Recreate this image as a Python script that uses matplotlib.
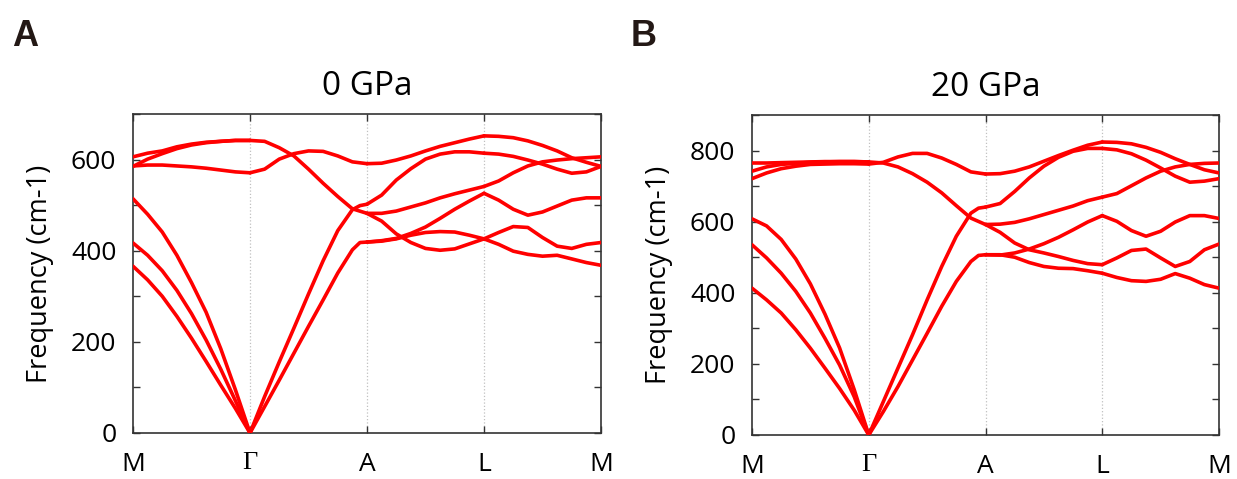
import numpy as np
import matplotlib
matplotlib.use("Agg")
import matplotlib.pyplot as plt
from matplotlib.ticker import MultipleLocator

plt.rcParams['font.family'] = ['Open Sans', 'DejaVu Sans']

# high-symmetry path labels, fractional positions inside one segment
path_labels = ['M', 'Γ', 'A', 'L', 'M']
K8 = [0, 0.125, 0.25, 0.375, 0.5, 0.625, 0.75, 0.875, 1.0]
K_AC = [0, 0.125, 0.25, 0.375, 0.5, 0.625, 0.75, 0.875, 0.94, 1.0]   # acoustic on Γ-A

####################################################################################################
# 0 GPa bands (cm-1), one list per visible curve on each segment
MG_0 = [[606, 614, 619, 628, 634, 638, 640, 642, 642],
        [585, 601, 613, 624, 632, 637, 640, 642, 642],
        [586, 588, 588, 586, 584, 581, 577, 573, 571],
        [514, 480, 441, 390, 330, 265, 185, 95, 0],
        [417, 390, 356, 313, 262, 204, 140, 71, 0],
        [366, 336, 300, 256, 208, 157, 105, 54, 0]]
GA_0 = [[642, 640, 626, 608, 579, 548, 519, 492, 482],
        [571, 579, 601, 613, 619, 618, 608, 595, 591]]
GA_AC_0 = [[0, 80, 156, 230, 305, 378, 444, 490, 499, 502],
           [0, 58, 116, 175, 234, 292, 351, 402, 418, 419]]
AL_0 = [[591, 592, 599, 608, 619, 629, 637, 645, 652],
        [502, 522, 555, 580, 601, 612, 617, 617, 614],
        [482, 482, 487, 496, 505, 516, 525, 533, 541],
        [482, 465, 437, 418, 405, 401, 404, 415, 426],
        [419, 422, 427, 438, 452, 471, 491, 509, 526],
        [419, 421, 426, 434, 440, 442, 441, 434, 426]]
LM_0 = [[652, 651, 648, 641, 631, 619, 604, 594, 585],
        [614, 612, 607, 599, 590, 579, 570, 573, 585],
        [541, 553, 571, 586, 595, 599, 602, 604, 606],
        [526, 511, 491, 478, 485, 498, 511, 516, 516],
        [426, 440, 453, 451, 429, 410, 405, 414, 418],
        [426, 414, 399, 392, 388, 390, 382, 374, 368]]

####################################################################################################
# 20 GPa bands (cm-1)
MG_20 = [[765, 765, 766, 767, 768, 769, 769, 769, 768],
         [742, 754, 761, 764, 767, 768, 769, 769, 768],
         [721, 737, 749, 756, 761, 762, 763, 763, 762],
         [608, 588, 550, 495, 425, 340, 245, 128, 0],
         [535, 498, 455, 404, 343, 272, 197, 108, 0],
         [413, 380, 343, 296, 244, 188, 131, 70, 0]]
GA_20 = [[768, 765, 754, 735, 711, 681, 645, 610, 592],
         [762, 767, 782, 792, 792, 779, 761, 740, 734]]
GA_AC_20 = [[0, 94, 188, 282, 380, 474, 559, 624, 638, 641],
            [0, 66, 136, 211, 286, 362, 432, 488, 505, 507]]
AL_20 = [[734, 735, 742, 754, 770, 786, 801, 815, 824],
         [641, 651, 685, 723, 756, 781, 798, 806, 806],
         [592, 593, 598, 608, 620, 632, 644, 659, 669],
         [592, 570, 540, 521, 512, 502, 491, 482, 479],
         [507, 506, 512, 523, 538, 556, 577, 599, 617],
         [507, 507, 500, 485, 474, 469, 468, 462, 455]]
LM_20 = [[824, 823, 819, 809, 795, 777, 761, 746, 737],
         [806, 802, 791, 773, 751, 728, 711, 714, 721],
         [669, 679, 701, 723, 742, 754, 761, 764, 765],
         [617, 601, 575, 559, 573, 599, 617, 617, 609],
         [479, 498, 519, 523, 498, 474, 488, 521, 537],
         [455, 443, 434, 432, 438, 454, 441, 423, 413]]


####################################################################################################
# draw one band-structure panel
def PlotBands(ax, segments, acoustic_GA, y_max, title, letter, letter_x):

    for s, curves in enumerate(segments):
        for v in curves:
            ax.plot(s + np.array(K8), v, color='#ff0000', lw=2.6, solid_capstyle='round',
                    solid_joinstyle='round', zorder=3)
    for v in acoustic_GA:
        ax.plot(1 + np.array(K_AC), v, color='#ff0000', lw=2.6, solid_capstyle='round',
                solid_joinstyle='round', zorder=3)

    for xv in [1, 2, 3]:
        ax.axvline(xv, color='#c0c0c0', ls=':', lw=0.9, zorder=1)

    ax.set_xlim(0, 4)
    ax.set_ylim(0, y_max)
    ax.set_xticks(range(5))
    ax.set_xticklabels(path_labels)
    ax.get_xticklabels()[1].set_fontfamily(['Liberation Serif', 'DejaVu Serif'])
    ax.yaxis.set_major_locator(MultipleLocator(200))
    ax.yaxis.set_minor_locator(MultipleLocator(100))
    ax.tick_params(which='both', direction='in', top=True, right=True, length=5, width=1,
                   color='#333333', labelsize=19)
    ax.tick_params(axis='y', pad=12)
    ax.tick_params(axis='x', pad=14)
    for sp in ax.spines.values():
        sp.set_color('#333333')
        sp.set_linewidth(1.2)

    ax.set_ylabel('Frequency (cm-1)', fontsize=19.5, labelpad=12)
    ax.set_title(title, fontsize=24, pad=14)
    ax.figure.text(letter_x, 1 - 46 / 479, letter, fontsize=26, fontweight='bold',
                   family=['Liberation Sans', 'DejaVu Sans'], color='#231815')


fig = plt.figure(figsize=(12.37, 4.79), dpi=100)
axA = fig.add_axes([133 / 1237, 46 / 479, 468 / 1237, 319 / 479])
axB = fig.add_axes([752 / 1237, 44 / 479, 467 / 1237, 320 / 479])

PlotBands(axA, [MG_0, GA_0, AL_0, LM_0], GA_AC_0, 700, '0 GPa', 'A', 12 / 1237)
PlotBands(axB, [MG_20, GA_20, AL_20, LM_20], GA_AC_20, 900, '20 GPa', 'B', 631 / 1237)

fig.savefig('out.png', dpi=100)
